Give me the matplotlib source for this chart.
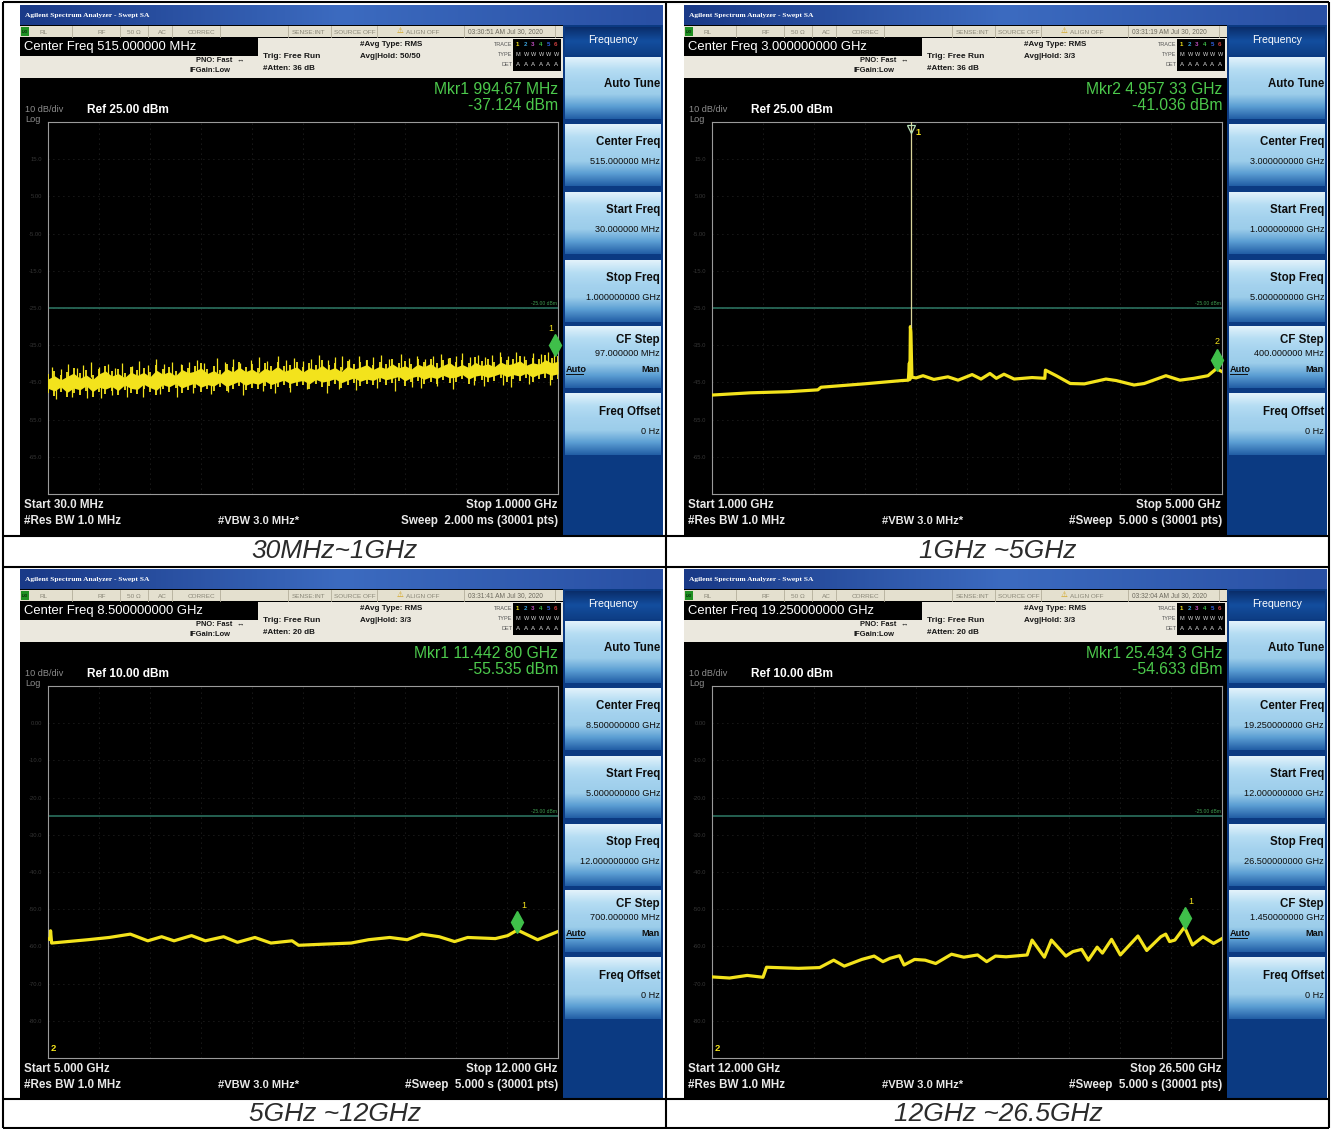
import numpy as np
import matplotlib
matplotlib.use('Agg')
import matplotlib.pyplot as plt
from matplotlib.patches import Rectangle
from matplotlib.colors import LinearSegmentedColormap
from matplotlib import transforms

plt.rcParams['font.family'] = ['Liberation Sans', 'DejaVu Sans']

W, H = 1332, 1129

captions = ['30MHz~1GHz', '1GHz ~5GHz', '5GHz ~12GHz', '12GHz ~26.5GHz']
f_start = [30.0, 1.0, 5.0, 12.0]        # MHz for the first sweep, GHz for the others
f_stop = [1000.0, 5.0, 12.0, 26.5]
ref_dbm = [25.0, 25.0, 10.0, 10.0]
display_line_dbm = -25.0

center_freq_txt = ['Center Freq 515.000000 MHz', 'Center Freq 3.000000000 GHz',
                   'Center Freq 8.500000000 GHz', 'Center Freq 19.250000000 GHz']
atten_txt = ['#Atten: 36 dB', '#Atten: 36 dB', '#Atten: 20 dB', '#Atten: 20 dB']
avg_hold_txt = ['Avg|Hold: 50/50', 'Avg|Hold: 3/3', 'Avg|Hold: 3/3', 'Avg|Hold: 3/3']
time_txt = ['03:30:51 AM Jul 30, 2020', '03:31:19 AM Jul 30, 2020',
            '03:31:41 AM Jul 30, 2020', '03:32:04 AM Jul 30, 2020']
mkr_freq_txt = ['Mkr1 994.67 MHz', 'Mkr2 4.957 33 GHz', 'Mkr1 11.442 80 GHz', 'Mkr1 25.434 3 GHz']
mkr_amp_txt = ['-37.124 dBm', '-41.036 dBm', '-55.535 dBm', '-54.633 dBm']
ref_txt = ['Ref 25.00 dBm', 'Ref 25.00 dBm', 'Ref 10.00 dBm', 'Ref 10.00 dBm']
start_txt = ['Start 30.0 MHz', 'Start 1.000 GHz', 'Start 5.000 GHz', 'Start 12.000 GHz']
stop_txt = ['Stop 1.0000 GHz', 'Stop 5.000 GHz', 'Stop 12.000 GHz', 'Stop 26.500 GHz']
sweep_txt = ['Sweep  2.000 ms (30001 pts)', '#Sweep  5.000 s (30001 pts)',
             '#Sweep  5.000 s (30001 pts)', '#Sweep  5.000 s (30001 pts)']
sk_center = ['515.000000 MHz', '3.000000000 GHz', '8.500000000 GHz', '19.250000000 GHz']
sk_start = ['30.000000 MHz', '1.000000000 GHz', '5.000000000 GHz', '12.000000000 GHz']
sk_stop = ['1.000000000 GHz', '5.000000000 GHz', '12.000000000 GHz', '26.500000000 GHz']
sk_cfstep = ['97.000000 MHz', '400.000000 MHz', '700.000000 MHz', '1.450000000 GHz']

mkr_freq = [994.67, 4.95733, 11.4428, 25.4343]
mkr_dbm = [-37.124, -41.036, -55.535, -54.633]
mkr_label = ['1', '2', '1', '1']

# sweep 1: noisy band (upper / lower envelope), 81 samples across the span
p1_upper = [-42.8, -41.9, -43.0, -42.1, -41.2, -42.6, -41.7, -42.9, -41.4, -40.6,
            -42.0, -41.3, -42.4, -40.9, -41.8, -41.0, -42.2, -40.4, -41.5, -40.8,
            -41.9, -40.2, -41.1, -40.7, -39.8, -41.3, -40.5, -41.6, -40.0, -40.9,
            -39.6, -40.8, -40.1, -41.2, -39.9, -40.6, -39.4, -40.7, -40.2, -39.5,
            -40.9, -39.8, -40.3, -39.1, -40.4, -39.7, -40.8, -39.3, -40.1, -39.6,
            -38.9, -40.2, -39.4, -40.0, -38.7, -39.8, -39.2, -40.1, -38.8, -39.5,
            -38.6, -39.9, -39.1, -38.4, -39.6, -38.9, -39.7, -38.3, -39.2, -38.7,
            -39.5, -38.2, -39.0, -38.6, -37.9, -39.1, -38.4, -38.8, -37.6, -38.5, -38.0]
p1_lower = [-47.9, -48.6, -47.5, -49.0, -47.8, -48.3, -47.2, -48.8, -47.6, -48.1,
            -47.4, -48.5, -47.0, -47.9, -48.2, -46.8, -47.7, -48.4, -46.9, -47.5,
            -46.6, -47.8, -47.1, -46.5, -47.6, -46.9, -47.3, -46.2, -47.4, -46.7,
            -46.0, -47.1, -46.4, -46.8, -45.9, -46.9, -46.3, -45.7, -46.6, -46.1,
            -45.8, -46.7, -45.5, -46.2, -45.9, -45.3, -46.4, -45.7, -45.1, -46.0,
            -45.4, -45.8, -44.9, -45.6, -45.2, -44.7, -45.9, -45.0, -44.6, -45.5,
            -44.8, -45.3, -44.4, -45.1, -44.9, -44.2, -45.4, -44.6, -44.3, -45.0,
            -44.5, -43.9, -44.8, -44.2, -44.6, -43.8, -44.9, -44.1, -43.7, -44.4, -44.0]
p1_freq = np.linspace(f_start[0], f_stop[0], len(p1_upper))
p1_spike_mhz = [38, 55, 68, 86, 97, 112, 127, 144, 158, 171, 189, 203, 221, 236, 251, 266,
                283, 298, 314, 327, 352, 366, 381, 395, 417, 432, 447, 468, 483, 498, 515,
                531, 546, 562, 575, 589, 603, 621, 634, 648, 663, 679, 702, 716, 731, 747,
                763, 778, 791, 806, 818, 833, 848, 861, 874, 889, 905, 921, 936, 952, 968,
                981, 993]
p1_spike_top = [-40.9, -41.5, -40.1, -41.2, -40.4, -39.6, -40.8, -40.0, -41.0, -39.9, -40.6,
                -39.3, -40.2, -38.8, -40.1, -39.4, -40.0, -39.5, -38.9, -39.8, -38.4, -39.5,
                -38.6, -39.7, -38.9, -38.1, -39.2, -37.9, -39.0, -38.4, -39.3, -38.6, -37.7,
                -38.9, -38.3, -37.8, -38.8, -38.0, -38.9, -38.2, -37.5, -38.6, -37.4, -38.5,
                -37.9, -38.7, -38.0, -37.3, -38.4, -37.8, -37.2, -38.1, -37.5, -38.3, -37.7,
                -36.9, -37.9, -36.9, -37.8, -37.1, -37.3, -36.8, -37.4]
p1_dip_mhz = [45, 76, 104, 130, 152, 180, 210, 243, 275, 305, 340, 372, 400, 438, 462, 490,
              523, 560, 583, 615, 655, 690, 722, 740, 770, 800, 840, 860, 895, 910, 945, 985]
p1_dip_low = [-49.5, -48.9, -49.3, -49.2, -48.4, -48.8, -48.8, -48.1, -48.9, -47.8, -48.1,
              -47.6, -48.4, -47.3, -47.8, -47.6, -46.9, -47.9, -46.8, -47.0, -46.6, -47.3,
              -46.3, -46.5, -45.9, -46.8, -45.7, -46.0, -45.6, -46.3, -45.4, -45.8]

# sweep 2: 1-5 GHz
p2_freq = [1.00, 1.30, 1.60, 1.83, 1.855, 2.19, 2.49, 2.54, 2.548, 2.552,
           2.556, 2.560, 2.564, 2.568, 2.60, 2.655, 2.74, 2.85, 2.93, 3.04,
           3.11, 3.18, 3.23, 3.29, 3.37, 3.51, 3.61, 3.615, 3.70, 3.81,
           3.92, 4.09, 4.17, 4.31, 4.39, 4.56, 4.67, 4.78, 4.89, 4.957, 5.00]
p2_dbm = [-48.4, -47.8, -47.5, -47.0, -46.3, -45.4, -44.5, -44.4, -39.8, -44.2,
          -30.0, -31.5, -38.0, -43.6, -43.8, -43.2, -44.2, -43.5, -44.4, -42.9,
          -44.1, -42.6, -43.9, -42.8, -44.1, -43.7, -43.9, -41.7, -43.2, -45.3,
          -45.4, -44.1, -44.5, -45.7, -45.3, -43.2, -44.4, -43.9, -43.2, -41.3, -42.1]
p2_peak_ghz = 2.558

# sweep 3: 5-12 GHz
p3_freq = [5.00, 5.03, 5.035, 5.05, 5.55, 5.84, 6.13, 6.37, 6.56, 6.73,
           6.97, 7.16, 7.41, 7.60, 7.84, 8.06, 8.35, 8.44, 8.78, 9.16,
           9.40, 9.69, 9.93, 10.13, 10.37, 10.58, 10.76, 11.14, 11.31, 11.443, 11.72, 12.00]
p3_dbm = [-58.0, -58.1, -55.8, -59.1, -58.2, -57.6, -56.7, -58.5, -57.4, -58.5,
          -57.1, -58.5, -57.4, -58.9, -57.6, -59.1, -58.5, -59.7, -59.4, -59.1,
          -58.2, -57.6, -58.2, -56.7, -57.4, -58.7, -57.6, -57.9, -57.1, -55.6, -58.2, -56.0]

# sweep 4: 12-26.5 GHz
p4_freq = [12.00, 12.50, 13.00, 13.45, 13.55, 14.46, 15.06, 15.46, 15.76, 16.26,
           16.61, 16.86, 17.06, 17.33, 17.46, 17.76, 18.06, 18.36, 18.81, 19.16,
           19.55, 19.81, 20.06, 20.36, 20.96, 21.10, 21.45, 21.65, 22.06, 22.26,
           22.51, 22.70, 22.95, 23.10, 23.36, 23.61, 24.11, 24.36, 24.76, 24.90,
           25.01, 25.16, 25.434, 25.66, 25.96, 26.26, 26.50]
p4_dbm = [-68.2, -68.5, -67.8, -68.3, -65.6, -65.9, -65.7, -63.7, -65.3, -63.5,
          -62.6, -64.1, -63.2, -62.5, -65.0, -63.5, -63.7, -64.6, -62.1, -62.9,
          -62.3, -64.1, -62.6, -62.8, -62.3, -58.3, -62.9, -58.3, -62.6, -61.4,
          -60.8, -63.7, -60.2, -61.8, -58.1, -62.3, -57.2, -61.1, -57.4, -56.7,
          -58.7, -58.3, -54.8, -59.6, -57.4, -59.2, -57.9]

TRACE = '#f3e31c'
MKR_GREEN = '#3fbf4a'

fig = plt.figure(figsize=(W / 100, H / 100), dpi=100)
fig.patch.set_facecolor('white')
bg = fig.add_axes([0, 0, 1, 1])
bg.axis('off')


def rect(x, y, w, h, color, z=1):
    bg.add_patch(Rectangle((x, y), w, h, facecolor=color, edgecolor='none', zorder=z))


def grad(x, y, w, h, colors, vertical=True, z=2):
    cmap = LinearSegmentedColormap.from_list('g', colors)
    arr = np.linspace(0, 1, 64)
    arr = arr.reshape(-1, 1) if vertical else arr.reshape(1, -1)
    bg.imshow(arr, cmap=cmap, extent=(x, x + w, y + h, y), aspect='auto',
              interpolation='bilinear', zorder=z)


def txt(x, y, s, size, color='white', ha='left', weight='normal', **kw):
    bg.text(x, y, s, fontsize=size, color=color, ha=ha, va='center',
            fontweight=weight, zorder=5, **kw)


status_items = [(20, 'RL'), (77, 'RF'), (107, '50 Ω'), (138, 'AC'), (168, 'CORREC'),
                (272, 'SENSE:INT'), (314, 'SOURCE OFF'), (386, 'ALIGN OFF')]
status_seps = [52, 100, 128, 152, 200, 268, 311, 357, 444, 535]

origins = [(20, 5), (684, 5), (20, 569), (684, 569)]

for i, (sx, sy) in enumerate(origins):
    # screen body and title bar
    rect(sx, sy, 643, 530, '#000000')
    grad(sx, sy, 643, 20, ['#1a3a88', '#3c6bc0', '#2950a4'], vertical=False)
    txt(sx + 5, sy + 11, 'Agilent Spectrum Analyzer - Swept SA', 5.4,
        family='Liberation Serif', weight='bold')

    # status row
    rect(sx, sy + 21, 543, 11, '#e4e0cf', z=2)
    rect(sx + 1, sy + 22, 8, 9, '#1f8f22', z=3)
    txt(sx + 1.5, sy + 27, 'LXI', 3.0, color='#000000')
    for dx, s in status_items:
        txt(sx + dx, sy + 27, s, 4.6, color='#8a8778')
    txt(sx + 377, sy + 26.5, '⚠', 5.5, color='#d09a00')
    txt(sx + 448, sy + 27, time_txt[i], 4.8, color='#6d6a5e')
    for dx in status_seps:
        bg.plot([sx + dx, sx + dx], [sy + 21, sy + 32], color='#b3ae9b', lw=0.6, zorder=3)

    # setup information area
    rect(sx, sy + 33, 543, 40, '#ebe8de', z=2)
    rect(sx, sy + 33, 238, 18, '#000000', z=3)
    txt(sx + 4, sy + 42, center_freq_txt[i], 9.4)
    txt(sx + 212, sy + 55, 'PNO: Fast', 5.4, color='#161616', ha='right', weight='bold')
    txt(sx + 216, sy + 55, '↔', 5.4, color='#161616')
    txt(sx + 170, sy + 66, 'IFGain:Low', 5.4, color='#161616', weight='bold')
    txt(sx + 243, sy + 52, 'Trig: Free Run', 6.0, color='#161616', weight='bold')
    txt(sx + 243, sy + 64, atten_txt[i], 5.8, color='#161616', weight='bold')
    txt(sx + 340, sy + 40, '#Avg Type: RMS', 5.8, color='#161616', weight='bold')
    txt(sx + 340, sy + 52, avg_hold_txt[i], 5.8, color='#161616', weight='bold')
    for k, lab in enumerate(['TRACE', 'TYPE', 'DET']):
        txt(sx + 492, sy + 39 + 10.5 * k, lab, 4.0, color='#555555', ha='right')
    rect(sx + 493, sy + 34, 48, 32, '#000000', z=3)
    for k, c in enumerate(['#f3e31c', '#3aa0d8', '#c04fc0', '#3fbf4a', '#3060e0', '#d04040']):
        txt(sx + 496 + 7.6 * k, sy + 39, str(k + 1), 4.4, color=c, weight='bold')
        txt(sx + 496 + 7.6 * k, sy + 49.5, 'M' if k == 0 else 'W', 4.0, color='#d8d8d8')
        txt(sx + 496 + 7.6 * k, sy + 60, 'A', 4.4, color='#d8d8d8')

    # marker readout and reference
    txt(sx + 538, sy + 85, mkr_freq_txt[i], 11.3, color='#4cc94c', ha='right')
    txt(sx + 538, sy + 101, mkr_amp_txt[i], 11.3, color='#4cc94c', ha='right')
    txt(sx + 5, sy + 105, '10 dB/div', 6.6, color='#8c8c8c')
    txt(sx + 5, sy + 114, 'Log', 6.6, color='#8c8c8c')
    txt(sx + 67, sy + 105, ref_txt[i], 8.6, weight='bold')

    # bottom annotation
    txt(sx + 4, sy + 500, start_txt[i], 8.4, color='#e8e8e8', weight='bold')
    txt(sx + 537, sy + 500, stop_txt[i], 8.4, color='#e8e8e8', ha='right', weight='bold')
    txt(sx + 4, sy + 516, '#Res BW 1.0 MHz', 8.4, color='#e8e8e8', weight='bold')
    txt(sx + 198, sy + 516, '#VBW 3.0 MHz*', 8.0, color='#e8e8e8', weight='bold')
    txt(sx + 538, sy + 516, sweep_txt[i], 8.4, color='#e8e8e8', ha='right', weight='bold')

    # softkey panel
    rect(sx + 543, sy + 20, 100, 510, '#0b3a82', z=2)
    grad(sx + 545, sy + 22, 96, 28, ['#0a2d6a', '#134e9f', '#0e3e85'], z=3)
    txt(sx + 593, sy + 35, 'Frequency', 7.6, ha='center')
    key_tops = [52, 119, 187, 255, 321, 388]
    for top in key_tops:
        grad(sx + 545, sy + top, 96, 62,
             ['#e2f2fb', '#b5ddf3', '#a4d2ee', '#9ccdea', '#5c9fd4', '#235fa6'], z=3)
    dark = '#0d0d0d'
    txt(sx + 640, sy + 79, 'Auto Tune', 8.3, color=dark, ha='right', weight='bold')
    txt(sx + 640, sy + 137, 'Center Freq', 8.3, color=dark, ha='right', weight='bold')
    txt(sx + 640, sy + 156, sk_center[i], 6.6, color=dark, ha='right')
    txt(sx + 640, sy + 205, 'Start Freq', 8.3, color=dark, ha='right', weight='bold')
    txt(sx + 640, sy + 224, sk_start[i], 6.6, color=dark, ha='right')
    txt(sx + 640, sy + 273, 'Stop Freq', 8.3, color=dark, ha='right', weight='bold')
    txt(sx + 640, sy + 292, sk_stop[i], 6.6, color=dark, ha='right')
    txt(sx + 640, sy + 335, 'CF Step', 8.3, color=dark, ha='right', weight='bold')
    txt(sx + 640, sy + 349, sk_cfstep[i], 6.6, color=dark, ha='right')
    txt(sx + 546, sy + 364, 'Auto', 6.6, color=dark, weight='bold')
    bg.plot([sx + 546, sx + 563], [sy + 369, sy + 369], color=dark, lw=0.7, zorder=5)
    txt(sx + 640, sy + 364, 'Man', 6.6, color=dark, ha='right', weight='bold')
    txt(sx + 640, sy + 407, 'Freq Offset', 8.3, color=dark, ha='right', weight='bold')
    txt(sx + 640, sy + 426, '0 Hz', 6.6, color=dark, ha='right')


def tick_label(v):
    return f'{v:.2f}' if abs(v) < 10 else f'{v:.1f}'


traces = []
for i, (sx, sy) in enumerate(origins):
    x0, y0 = sx + 28, sy + 117
    ax = fig.add_axes([x0 / W, 1 - (y0 + 372) / H, 510 / W, 372 / H])
    ax.set_facecolor('black')
    ref = ref_dbm[i]
    ax.set_xlim(f_start[i], f_stop[i])
    ax.set_ylim(ref - 100, ref)
    ax.set_xticks(np.linspace(f_start[i], f_stop[i], 11))
    levels = [ref - 10 * k for k in range(11)]
    ax.set_yticks(levels)
    ax.set_yticklabels([''] + [tick_label(v) for v in levels[1:-1]] + [''])
    ax.grid(True, color='#353535', ls=(0, (1, 5)), lw=0.6)
    ax.tick_params(length=0, labelbottom=False, labelsize=4.2, labelcolor='#363636', pad=4)
    for sp in ax.spines.values():
        sp.set_color('#9a9a9a')
        sp.set_linewidth(0.8)
    ax.axhline(display_line_dbm, color='#2e7a66', lw=1.1, zorder=2)
    ax.text(0.997, (display_line_dbm - (ref - 100)) / 100 + 0.006, '-25.00 dBm',
            transform=ax.transAxes, ha='right', va='bottom', fontsize=3.6, color='#3f9a50')
    traces.append(ax)

# sweep 1: dense noise band drawn as a core plus vertical strokes
ax = traces[0]
core_hi = np.array(p1_upper) - 1.3
core_lo = np.array(p1_lower) + 1.3
ax.fill_between(p1_freq, core_lo, core_hi, color=TRACE, lw=0, zorder=3)
ax.vlines(p1_freq, p1_lower, p1_upper, color=TRACE, lw=1.3, zorder=3)
ax.vlines(p1_spike_mhz, np.array(p1_spike_top) - 4.0, p1_spike_top, color=TRACE, lw=0.9, zorder=3)
ax.vlines(p1_dip_mhz, p1_dip_low, np.array(p1_dip_low) + 3.5, color=TRACE, lw=0.9, zorder=3)

# sweep 2
ax = traces[1]
ax.plot(p2_freq, p2_dbm, color=TRACE, lw=2.3, zorder=3, solid_joinstyle='round')
ax.plot([p2_peak_ghz, p2_peak_ghz], [-30.0, ref_dbm[1]], color='#d9d49a', lw=0.9, zorder=3)
ax.plot([p2_peak_ghz], [ref_dbm[1] - 1.8], marker='v', ms=6, mfc='none', mec='#b8e0b8',
        mew=0.9, zorder=4)
ax.annotate('1', (p2_peak_ghz, ref_dbm[1]), xytext=(5, -6), textcoords='offset pixels',
            color=TRACE, fontsize=6.5, fontweight='bold', va='top', zorder=5)

# sweeps 3 and 4
traces[2].plot(p3_freq, p3_dbm, color=TRACE, lw=2.3, zorder=3, solid_joinstyle='round')
traces[3].plot(p4_freq, p4_dbm, color=TRACE, lw=2.3, zorder=3, solid_joinstyle='round')
for ax in traces[2:]:
    ax.text(0.005, 0.018, '2', transform=ax.transAxes, color=TRACE, fontsize=6.8,
            fontweight='bold', zorder=5)

# active markers (diamond sits just above the trace point)
label_offsets = [(-7, 22), (-2, 24), (4, 22), (4, 22)]
for i, ax in enumerate(traces):
    up = transforms.offset_copy(ax.transData, fig=fig, x=0, y=8, units='dots')
    ax.plot([mkr_freq[i]], [mkr_dbm[i]], marker='d', ms=11, color=MKR_GREEN,
            transform=up, zorder=6, clip_on=False)
    ax.annotate(mkr_label[i], (mkr_freq[i], mkr_dbm[i]), xytext=label_offsets[i],
                textcoords='offset pixels', color=TRACE, fontsize=6.5, zorder=6,
                annotation_clip=False)

# table frame and captions
for cx, cy, cap in [(335, 551, captions[0]), (998, 551, captions[1]),
                    (335, 1114, captions[2]), (998, 1114, captions[3])]:
    bg.text(cx, cy, cap, fontsize=19, style='italic', color='#2b2b2b',
            ha='center', va='center', zorder=5)
lk = dict(color='black', lw=1.5, zorder=6, solid_capstyle='butt')
for y in [2, 536, 567, 1099, 1127.5]:
    bg.plot([3, 1329], [y, y], **lk)
for x in [3, 666, 1329]:
    bg.plot([x, x], [2, 1128], **lk)

bg.set_xlim(0, W)
bg.set_ylim(H, 0)

fig.savefig('out.png', dpi=100, facecolor='white')
